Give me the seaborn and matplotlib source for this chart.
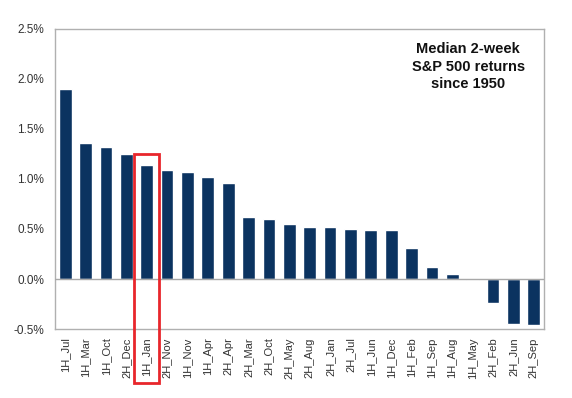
import matplotlib
matplotlib.use("Agg")
import matplotlib.pyplot as plt
import matplotlib.transforms as mtransforms
from matplotlib.patches import Rectangle
from matplotlib.ticker import FuncFormatter
import seaborn as sns
import pandas as pd

periods = ["1H_Jul", "1H_Mar", "1H_Oct", "2H_Dec", "1H_Jan", "2H_Nov", "1H_Nov", "1H_Apr",
           "2H_Apr", "2H_Mar", "2H_Oct", "2H_May", "2H_Aug", "2H_Jan", "2H_Jul", "1H_Jun",
           "1H_Dec", "1H_Feb", "1H_Sep", "1H_Aug", "1H_May", "2H_Feb", "2H_Jun", "2H_Sep"]
returns = [1.90, 1.36, 1.32, 1.25, 1.14, 1.09, 1.07, 1.02,
           0.96, 0.62, 0.60, 0.55, 0.52, 0.52, 0.50, 0.49,
           0.49, 0.31, 0.12, 0.05, -0.01, -0.24, -0.45, -0.46]
y_ticks = [-0.5, 0.0, 0.5, 1.0, 1.5, 2.0, 2.5]
highlight = "1H_Jan"
title_text = "Median 2-week\nS&P 500 returns\nsince 1950"

df = pd.DataFrame({"period": periods, "ret": returns})

sns.set_style("white")
plt.rcParams["font.family"] = ["Liberation Sans", "DejaVu Sans"]

fig = plt.figure(figsize=(5.72, 3.98), dpi=100)
ax = fig.add_axes([55/572, 1-329/398, (544-55)/572, (329-29)/398])

sns.barplot(data=df, x="period", y="ret", color="#0b3360", saturation=1,
            width=0.63, ax=ax)

ax.set_ylim(-0.5, 2.5)
ax.set_xlim(-0.5, len(periods) - 0.5)
ax.set_yticks(y_ticks)
ax.yaxis.set_major_formatter(FuncFormatter(lambda v, p: f"{v:.1f}%"))
ax.axhline(0, color="#a8a8a8", lw=1.0, zorder=3)
ax.set_xlabel("")
ax.set_ylabel("")
ax.tick_params(axis="x", rotation=90, labelsize=8, length=0, pad=6, colors="#333333")
ax.tick_params(axis="y", labelsize=8.5, length=0, pad=8, colors="#333333")
for s in ax.spines.values():
    s.set_color("#b0b0b0")
    s.set_linewidth(1.0)

ax.text(0.845, 0.955, title_text, transform=ax.transAxes, ha="center", va="top",
        fontsize=10.5, fontweight="bold", linespacing=1.3, color="#111111")

idx = periods.index(highlight)
trans = mtransforms.blended_transform_factory(ax.transData, fig.transFigure)
rect = Rectangle((idx - 0.6, 1 - 383/398), 1.2, (383 - 154)/398, transform=trans,
                 fill=False, edgecolor="#e8262b", lw=2.0, clip_on=False, zorder=5)
fig.add_artist(rect)

fig.savefig("out.png", dpi=100)
